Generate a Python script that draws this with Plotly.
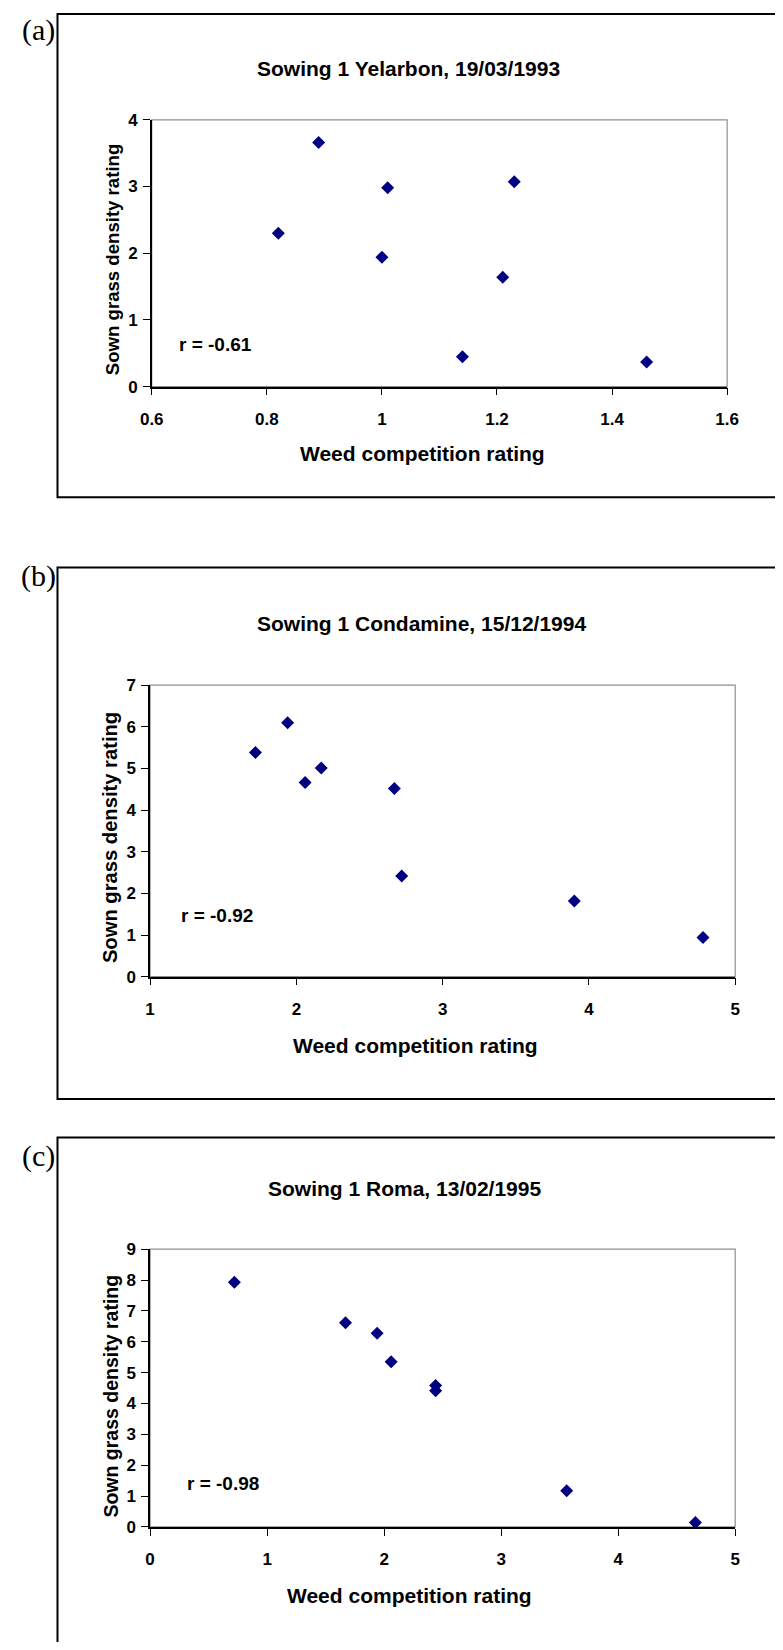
import plotly.graph_objects as go

# ---------------- data ----------------
# (a) Sowing 1 Yelarbon, 19/03/1993
a_weed = [0.82, 0.89, 1.01, 1.00, 1.23, 1.21, 1.14, 1.46]
a_grass = [2.30, 3.66, 2.98, 1.94, 3.07, 1.64, 0.45, 0.37]
a_xticks = [0.6, 0.8, 1.0, 1.2, 1.4, 1.6]
a_xticklabels = ["0.6", "0.8", "1", "1.2", "1.4", "1.6"]
a_yticks = [0, 1, 2, 3, 4]
a_title = "Sowing 1 Yelarbon, 19/03/1993"
a_r = "r = -0.61"

# (b) Sowing 1 Condamine, 15/12/1994
b_weed = [1.72, 1.94, 2.06, 2.17, 2.67, 2.72, 3.90, 4.78]
b_grass = [5.38, 6.10, 4.66, 5.01, 4.52, 2.42, 1.82, 0.94]
b_xticks = [1, 2, 3, 4, 5]
b_xticklabels = ["1", "2", "3", "4", "5"]
b_yticks = [0, 1, 2, 3, 4, 5, 6, 7]
b_title = "Sowing 1 Condamine, 15/12/1994"
b_r = "r = -0.92"

# (c) Sowing 1 Roma, 13/02/1995
c_weed = [0.72, 1.67, 1.94, 2.06, 2.44, 2.44, 3.56, 4.66]
c_grass = [7.93, 6.62, 6.28, 5.35, 4.58, 4.41, 1.17, 0.14]
c_xticks = [0, 1, 2, 3, 4, 5]
c_xticklabels = ["0", "1", "2", "3", "4", "5"]
c_yticks = [0, 1, 2, 3, 4, 5, 6, 7, 8, 9]
c_title = "Sowing 1 Roma, 13/02/1995"
c_r = "r = -0.98"

panel_labels = ["(a)", "(b)", "(c)"]
x_title = "Weed competition rating"
y_title = "Sown grass density rating"

# ---------------- layout helpers ----------------
W, H = 767, 1634          # figure size (page body has an 8px margin)
OX, OY = 8, 8


def px(X):
    return (X - OX) / W


def py(Y):
    return 1 - (Y - OY) / H


FONT = "Liberation Sans, Arial, sans-serif"
SERIF = "Liberation Serif, Times New Roman, serif"
MARKER = "#000080"

panels = [
    dict(x=a_weed, y=a_grass, xt=a_xticks, xtl=a_xticklabels, yt=a_yticks,
         title=a_title, r=a_r, label=panel_labels[0],
         box=(144, 738, 112, 382), frame=(46.7, 5, 494),
         title_pos=(409, 60), xt_pos=(423.5, 450), yt_pos=(103, 254), yt_size=18.6,
         r_pos=(170, 339), label_pos=(27, 21)),
    dict(x=b_weed, y=b_grass, xt=b_xticks, xtl=b_xticklabels, yt=b_yticks,
         title=b_title, r=b_r, label=panel_labels[1],
         box=(142.3, 746.3, 684, 979), frame=(46.7, 565, 1102.7),
         title_pos=(422, 621.7), xt_pos=(416, 1048.3), yt_pos=(101.7, 838), yt_size=20.2,
         r_pos=(171.7, 917.3), label_pos=(27, 574)),
    dict(x=c_weed, y=c_grass, xt=c_xticks, xtl=c_xticklabels, yt=c_yticks,
         title=c_title, r=c_r, label=panel_labels[2],
         box=(142.3, 746.3, 1254.7, 1535.7), frame=(46.7, 1141.7, 1720),
         title_pos=(405, 1193), xt_pos=(410, 1605), yt_pos=(101.7, 1403), yt_size=19.5,
         r_pos=(178.3, 1491.7), label_pos=(27, 1160)),
]

fig = go.Figure()
annotations = []
shapes = []
layout = dict(
    width=W, height=H, autosize=False,
    margin=dict(l=0, r=0, t=0, b=0, pad=0),
    paper_bgcolor="white", plot_bgcolor="white",
    showlegend=False,
)

for i, p in enumerate(panels):
    n = "" if i == 0 else str(i + 1)
    xa, ya = "x" + n, "y" + n
    fig.add_trace(go.Scatter(
        x=p["x"], y=p["y"], mode="markers", xaxis=xa, yaxis=ya,
        marker=dict(symbol="diamond", size=10, color=MARKER, line=dict(width=0)),
        hoverinfo="x+y",
    ))
    x0, x1, y0, y1 = p["box"]
    layout["xaxis" + n] = dict(
        domain=[px(x0), px(x1)], anchor=ya,
        range=[p["xt"][0], p["xt"][-1]], tickvals=p["xt"], ticktext=p["xtl"],
        showgrid=False, zeroline=False, showline=True, linecolor="black", linewidth=1.5,
        ticks="outside", ticklen=7, tickwidth=1.2, tickcolor="black",
        tickfont=dict(family=FONT, size=17, color="black", weight="bold"),
        ticklabelstandoff=9, fixedrange=True,
    )
    layout["yaxis" + n] = dict(
        domain=[py(y1), py(y0)], anchor=xa,
        range=[p["yt"][0], p["yt"][-1]], tickvals=p["yt"],
        showgrid=False, zeroline=False, showline=True, linecolor="black", linewidth=1.5,
        ticks="outside", ticklen=7, tickwidth=1.2, tickcolor="black",
        tickfont=dict(family=FONT, size=17, color="black", weight="bold"),
        ticklabelstandoff=2, fixedrange=True,
    )
    # grey plot-area border (top/right)
    shapes.append(dict(type="rect", xref=xa + " domain", yref=ya + " domain",
                       x0=0, x1=1, y0=0, y1=1, layer="below",
                       line=dict(color="#8f8f8f", width=1.2)))
    # black frame around each panel
    fx, ft, fb = p["frame"]
    shapes.append(dict(type="rect", xref="paper", yref="paper",
                       x0=px(fx), x1=px(820), y0=py(fb), y1=py(ft),
                       line=dict(color="black", width=2)))
    # texts
    tx, ty = p["title_pos"]
    annotations.append(dict(text=p["title"], xref="paper", yref="paper",
                            x=px(tx), y=py(ty), xanchor="center", yanchor="middle",
                            showarrow=False,
                            font=dict(family=FONT, size=21, color="black", weight="bold")))
    tx, ty = p["xt_pos"]
    annotations.append(dict(text=x_title, xref="paper", yref="paper",
                            x=px(tx), y=py(ty), xanchor="center", yanchor="middle",
                            showarrow=False,
                            font=dict(family=FONT, size=21, color="black", weight="bold")))
    tx, ty = p["yt_pos"]
    annotations.append(dict(text=y_title, xref="paper", yref="paper", textangle=-90,
                            x=px(tx), y=py(ty), xanchor="center", yanchor="middle",
                            showarrow=False,
                            font=dict(family=FONT, size=p["yt_size"], color="black", weight="bold")))
    tx, ty = p["r_pos"]
    annotations.append(dict(text=p["r"], xref="paper", yref="paper",
                            x=px(tx), y=py(ty), xanchor="left", yanchor="middle",
                            showarrow=False,
                            font=dict(family=FONT, size=19, color="black", weight="bold")))
    tx, ty = p["label_pos"]
    annotations.append(dict(text=p["label"], xref="paper", yref="paper",
                            x=px(tx), y=py(ty), xanchor="center", yanchor="middle",
                            showarrow=False,
                            font=dict(family=SERIF, size=30, color="black")))

layout["annotations"] = annotations
layout["shapes"] = shapes
fig.update_layout(**layout)

fig.write_html("out.html")
